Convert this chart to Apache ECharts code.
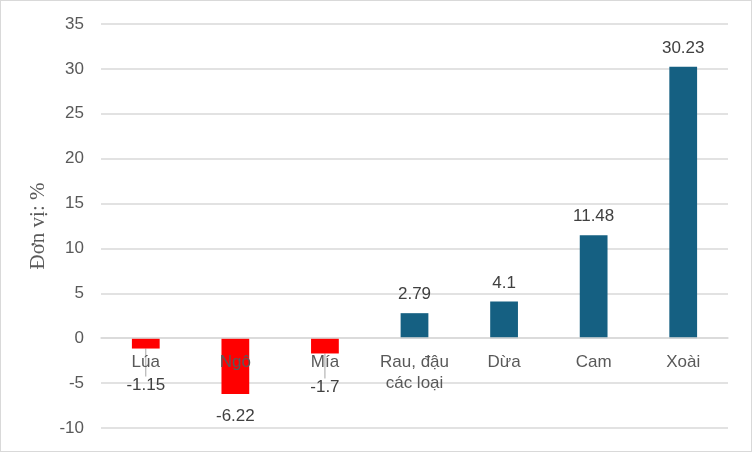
<!DOCTYPE html>
<html>
<head>
<meta charset="utf-8">
<script src="https://cdn.jsdelivr.net/npm/echarts@6/dist/echarts.min.js"></script>
<style>
html,body{margin:0;padding:0;background:#fff;}
#c{width:752px;height:452px;box-sizing:border-box;border:1.5px solid #d9d9d9;}
</style>
</head>
<body>
<div id="c"></div>
<script>
var categories = ['Lúa', 'Ngô', 'Mía', 'Rau, đậu\ncác loại', 'Dừa', 'Cam', 'Xoài'];
var values = [-1.15, -6.22, -1.7, 2.79, 4.1, 11.48, 30.23];
var yTicks = { min: -10, max: 35, interval: 5 };
var axisName = 'Đơn vị: %';

var NEG = '#ff0000', POS = '#156082', TXT = '#595959', LBL = '#404040';
var labelShift = [14, 0, 11, 0, 0, 0, 0];

var chart = echarts.init(document.getElementById('c'), null, { renderer: 'canvas' });
var data = values.map(function (v, i) {
  return {
    value: v,
    itemStyle: { color: v < 0 ? NEG : POS },
    label: { position: v < 0 ? 'bottom' : 'top', distance: v < 0 ? 14 : 10 },
    labelLine: { show: labelShift[i] > 0 }
  };
});
chart.setOption({
  animation: false,
  grid: { left: 100, right: 23, top: 23, bottom: 23, containLabel: false, outerBoundsMode: 'none' },
  xAxis: {
    type: 'category',
    data: categories,
    z: 5,
    position: 'bottom',
    offset: 0,
    axisLine: { onZero: false, lineStyle: { color: '#d9d9d9', width: 1.5 } },
    axisTick: { show: false },
    axisLabel: { color: TXT, fontSize: 17, fontFamily: 'Liberation Sans', margin: 14, lineHeight: 21, interval: 0 }
  },
  yAxis: {
    type: 'value',
    min: yTicks.min, max: yTicks.max, interval: yTicks.interval,
    name: axisName,
    nameLocation: 'middle',
    nameGap: 52,
    nameTextStyle: { color: TXT, fontSize: 21, fontFamily: 'Liberation Serif' },
    axisLine: { show: false },
    axisTick: { show: false },
    axisLabel: { color: TXT, fontSize: 17, fontFamily: 'Liberation Sans', margin: 17 },
    splitLine: { lineStyle: { color: '#d9d9d9', width: 1.5 } }
  },
  series: [{
    type: 'bar',
    data: data,
    barWidth: '31%',
    label: { show: true, color: LBL, fontSize: 17, fontFamily: 'Liberation Sans' },
    labelLine: { show: false, lineStyle: { color: '#a6a6a6', width: 1 } },
    labelLayout: function (p) { return { dy: labelShift[p.dataIndex] }; }
  }]
});
// move the category axis onto the zero line using the library's own scale
var yZero = chart.convertToPixel({ yAxisIndex: 0 }, 0);
var yMin = chart.convertToPixel({ yAxisIndex: 0 }, yTicks.min);
chart.setOption({ xAxis: { offset: yZero - yMin } });
</script>
</body>
</html>
